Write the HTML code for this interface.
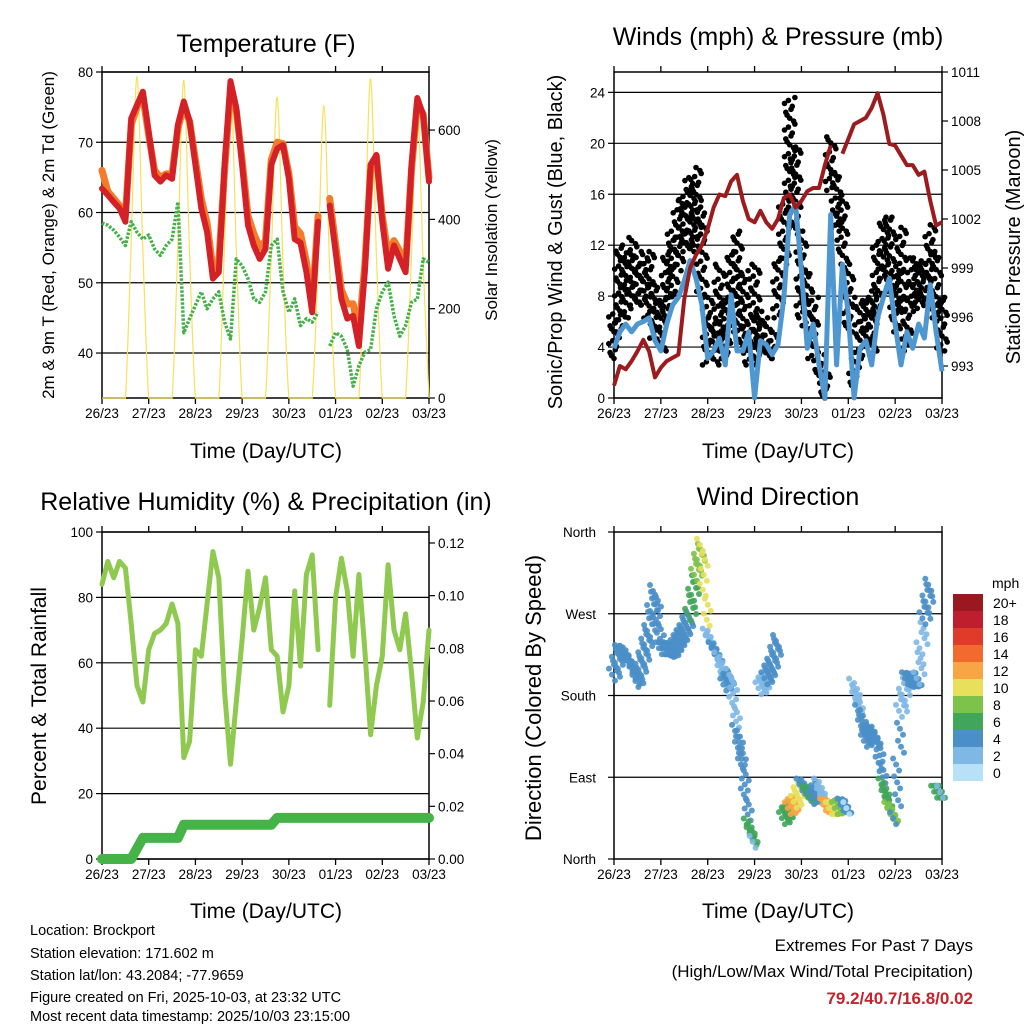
<!DOCTYPE html>
<html><head><meta charset="utf-8"><style>
html,body{margin:0;padding:0;background:#fff;}
svg{display:block;font-family:"Liberation Sans",sans-serif;}
</style></head><body>
<svg id="c" width="1024" height="1024" viewBox="0 0 1024 1024" xmlns="http://www.w3.org/2000/svg">
<rect width="1024" height="1024" fill="#fff"/>
<g id="g"></g>
<text x="266" y="52" font-size="25" text-anchor="middle">Temperature (F)</text>
<text x="778" y="45" font-size="25" text-anchor="middle">Winds (mph) &amp; Pressure (mb)</text>
<text x="266" y="510" font-size="25" text-anchor="middle">Relative Humidity (%) &amp; Precipitation (in)</text>
<text x="778" y="505" font-size="25" text-anchor="middle">Wind Direction</text>
<text x="266" y="458" font-size="21" text-anchor="middle">Time (Day/UTC)</text>
<text x="778" y="458" font-size="21" text-anchor="middle">Time (Day/UTC)</text>
<text x="266" y="918" font-size="21" text-anchor="middle">Time (Day/UTC)</text>
<text x="778" y="918" font-size="21" text-anchor="middle">Time (Day/UTC)</text>
<text transform="translate(54,235) rotate(-90)" font-size="17" text-anchor="middle">2m &amp; 9m T (Red, Orange) &amp; 2m Td (Green)</text>
<text transform="translate(497,230) rotate(-90)" font-size="17" text-anchor="middle">Solar Insolation (Yellow)</text>
<text transform="translate(562,242) rotate(-90)" font-size="20" text-anchor="middle">Sonic/Prop Wind &amp; Gust (Blue, Black)</text>
<text transform="translate(1020,247) rotate(-90)" font-size="20" text-anchor="middle">Station Pressure (Maroon)</text>
<text transform="translate(46,696) rotate(-90)" font-size="21" text-anchor="middle">Percent &amp; Total Rainfall</text>
<text transform="translate(541,698) rotate(-90)" font-size="22" text-anchor="middle">Direction (Colored By Speed)</text>
<g font-size="14.5">
<text x="30" y="935">Location: Brockport</text>
<text x="30" y="958">Station elevation: 171.602 m</text>
<text x="30" y="980">Station lat/lon: 43.2084; -77.9659</text>
<text x="30" y="1002">Figure created on Fri, 2025-10-03, at 23:32 UTC</text>
<text x="30" y="1024" dy="-3">Most recent data timestamp: 2025/10/03 23:15:00</text>
</g>
<g font-size="17" text-anchor="end">
<text x="973" y="951">Extremes For Past 7 Days</text>
<text x="973" y="977">(High/Low/Max Wind/Total Precipitation)</text>
<text x="973" y="1004" fill="#C4232B" font-weight="bold">79.2/40.7/16.8/0.02</text>
</g>
</svg>
<script>
const days=["26/23","27/23","28/23","29/23","30/23","01/23","02/23","03/23"];
const tempRed=[63.4,62.5,61.5,60.6,58.7,73.4,75.3,77.2,71.5,65.3,64.4,65.3,64.8,72.5,75.8,73,66.8,60.6,57.2,50.6,51.5,66.8,78.7,74.9,66.8,58.2,55.3,53.4,54.8,66.8,69.1,69.6,64.8,56.2,55.7,51.5,45.8,58.7,null,61,54.4,47.7,44.9,45.3,41,51.5,66.8,68.2,58.7,52,55.3,53.4,51.5,66.8,76.3,73.9,64.4];
const tempOrange=[66,63,62,61,59.5,72.5,75,76.5,71,66,65,65.5,65.5,72,75,73,67.5,62,58.5,52,53,66,77.5,74.5,67.5,59.5,57,55,56,67.5,70,69.8,65.5,58,57,53,47,59.5,null,62,55.5,49,47,47,43,52.5,66,68,59.5,54,56,54.5,52.5,66,75.5,74,65];
const dewGreen=[58.5,58.2,57.5,56.5,55.3,58.7,57.2,56.2,56.8,54.8,53.9,55.3,56.2,61.5,42.9,44.9,46.8,48.7,46.3,47.7,48.7,44.4,42,53.4,52.4,50.6,47.7,47.2,48.7,55.3,56.2,48.7,45.8,47.7,43.9,44.9,44.4,45.8,null,41,42.9,42.4,40.5,35.3,38.2,40.1,40.5,46.3,48.7,50.1,45.3,42.4,43.9,47.2,47.7,53.4,52.9];
const solar=[0,0,0,0,0,350,720,330,0,0,0,0,0,340,711,320,0,0,0,0,0,350,715,330,0,0,0,0,0,320,674,300,0,0,0,0,0,300,655,290,0,0,0,0,0,350,715,320,0,0,0,0,0,320,661,300,0];
const pressure=[991.8,993,992.8,993.3,993.9,994.6,993.9,992.3,992.9,993.3,993.5,993.7,997.1,999,999.8,1000.4,1001.4,1002.7,1003.5,1003.4,1004.3,1004.7,1003.1,1002,1001.8,1002.5,1001.8,1001.4,1002,1003.3,1003.5,1002.7,1003.1,1003.7,1003.9,1003.9,1005.3,1006.5,null,1006,1006.9,1007.8,1008,1008.2,1008.8,1009.7,1008.4,1006.6,1006.5,1005.9,1005.3,1005.3,1004.7,1004.9,1003.1,1001.6,1001.8];
const windMean=[3.9,5.2,5.8,5.2,5.8,6,6.3,4.5,3.7,5.8,7.3,7.9,9.2,10.8,9.4,7.3,3.1,3.7,4.7,2.6,8.1,3.7,3.7,5.2,0,4.5,4.2,3.4,4.2,7.9,14.4,15.2,10,3.9,5.8,2.6,0,14.4,2.6,10.5,6.6,0,3.9,4.5,2.6,6.3,7.9,9.4,5.8,2.6,5.2,3.9,5.8,4.7,8.9,5.2,2.1];
const gustHi=[6.6,12,11.5,12.6,11.5,11,11.5,8.9,7.9,11.5,13.1,15.5,16.3,17.3,18.1,15,7.9,6.3,10.5,7.9,11.5,13.1,10,6.3,10.5,6.8,6.3,5.2,11,15.7,23.6,19.7,13.1,10,7.9,3.4,2.1,20.5,17.6,15.7,10.5,3.1,7.9,7.9,8.4,12,14.2,14.2,10,13.4,7.9,11,11,10.5,13.6,11.5,7.9];
const gustLo=[3.1,5.2,6.3,7.3,7.3,7.3,5.8,4.7,3.7,6.3,7.9,10,11.5,11.5,12,7.9,2.6,2.6,3.7,3.1,5.2,5.2,3.9,2.6,2.6,3.1,3.1,3.1,6.3,10.5,15,13.1,6.3,5.2,3.1,1.3,0,16.3,13.1,10.5,5.2,1,3.1,3.9,3.7,6.3,9.4,7.9,5.2,6.8,3.7,7.3,6.8,7.3,9.4,6.3,3.7];
const rh=[84,91,86,91,89,72,53,48,64,69,70,72,78,72,31,36,64,62,78,94,86,51,29,48,67,88,70,77,86,64,62,45,53,82,59,87,93,64,null,47,80,92,82,62,87,64,38,53,62,90,70,64,75,57,37,48,70];
const precip=[0,0,0,0,0,0,0.004,0.008,0.008,0.008,0.008,0.008,0.008,0.008,0.013,0.013,0.013,0.013,0.013,0.013,0.013,0.013,0.013,0.013,0.013,0.013,0.013,0.013,0.013,0.013,0.0156,0.0156,0.0156,0.0156,0.0156,0.0156,0.0156,0.0156,0.0156,0.0156,0.0156,0.0156,0.0156,0.0156,0.0156,0.0156,0.0156,0.0156,0.0156,0.0156,0.0156,0.0156,0.0156,0.0156,0.0156,0.0156,0.0156];
const windDir=[203,229,225,214,196,221,251,295,232,232,229,240,251,269,313,346,247,232,221,192,203,141,104,38,19,188,199,214,240,45,56,63,82,74,67,82,60,56,56,60,56,192,163,130,141,130,82,56,45,163,199,196,199,265,302,74,74];
const windSpd=[5,5,5,5,5,5,5,4,4,5,4,5,5,6,9,10,3,4,3,4,3,4,4,7,2,2,4,4,4,7,13,11,5,6,4,2,12,10,8,4,1,2,4,4,4,5,7,8,5,2,5,5,3,5,4,6,3];
const speedLabels=["20+","18","16","14","12","10","8","6","4","2","0"];
const speedColors=["#9B1820","#BE1E2D","#E03A2A","#F26A2E","#F8A545","#E8E05A","#7DC24B","#41A55B","#4A8FC8","#7FB8E5","#B8E1F8"];

const NS="http://www.w3.org/2000/svg";
const G=document.getElementById('g');
function mk(tag,attrs,parent){const e=document.createElementNS(NS,tag);for(const k in attrs)e.setAttribute(k,attrs[k]);(parent||G).appendChild(e);return e;}
const N=56;
function xs(L,R){return i=>L+i/N*(R-L);}
function ys(T,B,lo,hi){return v=>B-(v-lo)/(hi-lo)*(B-T);}
function pathOf(arr,X,Y){let d="",pen=false;arr.forEach((v,i)=>{if(v===null){pen=false;return;}d+=(pen?"L":"M")+X(i).toFixed(1)+" "+Y(v).toFixed(1);pen=true;});return d;}
function smoothOf(arr,X,Y){let p=arr.map((v,i)=>[X(i),Y(v)]);let d="M"+p[0][0]+" "+p[0][1];for(let i=0;i<p.length-1;i++){const p0=p[Math.max(0,i-1)],p1=p[i],p2=p[i+1],p3=p[Math.min(p.length-1,i+2)];const c1=[p1[0]+(p2[0]-p0[0])/6,p1[1]+(p2[1]-p0[1])/6],c2=[p2[0]-(p3[0]-p1[0])/6,p2[1]-(p3[1]-p1[1])/6];d+=`C${c1[0].toFixed(1)} ${Math.min(c1[1],Y(0)).toFixed(1)} ${c2[0].toFixed(1)} ${Math.min(c2[1],Y(0)).toFixed(1)} ${p2[0].toFixed(1)} ${p2[1].toFixed(1)}`;}return d;}
function frame(L,R,T,B,name){
  const g=mk('g',{});
  
  
  for(let k=0;k<=7;k++){const x=L+k*(R-L)/7;
    mk('line',{x1:x,y1:B,x2:x,y2:B+6,stroke:'#000','stroke-width':1.3},g);
    mk('line',{x1:x,y1:T,x2:x,y2:T-6,stroke:'#000','stroke-width':1.3},g);
    const t=mk('text',{x:x,y:B+20,'font-size':13.5,'text-anchor':'middle'},g);t.textContent=days[k];
    
    
  }
  return g;
}
function box(L,R,T,B,g){mk('rect',{x:L,y:T,width:R-L,height:B-T,fill:'none',stroke:'#000','stroke-width':1.5},g);}
function yticks(vals,Y,x,side,fmt,g,L,R,grid){vals.forEach(v=>{const y=Y(v);
  if(grid&&y>Y(vals[vals.length-1])-1)mk('line',{x1:L,y1:y,x2:R,y2:y,stroke:'#000','stroke-width':1.2},g);
  mk('line',{x1:x,y1:y,x2:x+(side<0?-6:6),y2:y,stroke:'#000','stroke-width':1.2},g);
  const t=mk('text',{x:x+(side<0?-9:9),y:y+5,'font-size':13.5,'text-anchor':side<0?'end':'start'},g);t.textContent=fmt(v);
  
  });}

// Panel 1 temperature
{const L=102,R=429,T=72,B=398;const X=xs(L,R),YS=ys(T,B,0,730);
const Yt=v=>B-(v-33.6)/(80-33.6)*(B-T);
const g=frame(L,R,T,B,'temperature');
yticks([40,50,60,70,80],Yt,L,-1,v=>v,g,L,R,true);
yticks([0,200,400,600],YS,R,1,v=>v,g,L,R,false);
const s=mk('path',{d:smoothOf(solar,X,YS),fill:'none',stroke:'#F7E15A','stroke-width':1.2});


const o=mk('path',{d:pathOf(tempOrange,X,Yt),fill:'none',stroke:'#F47B2A','stroke-width':7,'stroke-linejoin':'round','stroke-linecap':'round'});


const r=mk('path',{d:pathOf(tempRed,X,Yt),fill:'none',stroke:'#D42127','stroke-width':6,'stroke-linejoin':'round','stroke-linecap':'round'});


const gr=mk('path',{d:pathOf(dewGreen,X,Yt),fill:'none',stroke:'#46B048','stroke-width':3.5,'stroke-dasharray':'2.5 1.5','stroke-linejoin':'round'});


box(L,R,T,B,g);}

// Panel 2 winds
{const L=614,R=942,T=72,B=398;const X=xs(L,R);const Y=v=>B-v/25.6*(B-T);const YP=v=>366-(v-993)/18*(366-72);
const g=frame(L,R,T,B,'winds');
yticks([0,4,8,12,16,20,24],Y,L,-1,v=>v,g,L,R,true);
yticks([993,996,999,1002,1005,1008,1011],YP,R,1,v=>v,g,L,R,false);
const dg=mk('g',{fill:'#000'});


const jit=[0,-3,2,-1,3,-2,1,-4,4];
gustHi.forEach((h,i)=>{const lo=gustLo[i];const x0=X(i);const n=Math.max(2,Math.round((Y(lo)-Y(h))/3));
 for(let k=0;k<=n;k++){const v=lo+(h-lo)*k/n;const dx=jit[(k*5+i)%9]*1.3;
 const c=mk('circle',{cx:(x0+dx).toFixed(1),cy:Y(v).toFixed(1),r:2.8},dg);
 
 }});
const b=mk('path',{d:pathOf(windMean,X,Y),fill:'none',stroke:'#4F97D1','stroke-width':5,'stroke-linejoin':'round'});


const p=mk('path',{d:pathOf(pressure,X,YP),fill:'none',stroke:'#9B1B1E','stroke-width':4,'stroke-linejoin':'round'});


box(L,R,T,B,g);}

// Panel 3 RH
{const L=102,R=429,T=532,B=859;const X=xs(L,R);const Y=v=>B-v/100*(B-T);const YR=v=>B-v/0.12*(B-543);
const g=frame(L,R,T,B,'humidity');
yticks([0,20,40,60,80,100],Y,L,-1,v=>v,g,L,R,true);
yticks([0,0.02,0.04,0.06,0.08,0.1,0.12],YR,R,1,v=>v.toFixed(2),g,L,R,false);
const pr=mk('path',{d:pathOf(precip,X,YR),fill:'none',stroke:'#45B347','stroke-width':10,'stroke-linecap':'round','stroke-linejoin':'round'});


const h=mk('path',{d:pathOf(rh,X,Y),fill:'none',stroke:'#8FC94F','stroke-width':5,'stroke-linejoin':'round','stroke-linecap':'round'});


box(L,R,T,B,g);}

// Panel 4 direction
{const L=614,R=942,T=532,B=859;const X=xs(L,R);const Y=v=>B-v/360*(B-T);
const g=frame(L,R,T,B,'direction');
const names=["North","East","South","West","North"];
[0,90,180,270,360].forEach((v,k)=>{const y=Y(v);if(k>0&&k<4)mk('line',{x1:L,y1:y,x2:R,y2:y,stroke:'#000','stroke-width':1.2},g);
 mk('line',{x1:L,y1:y,x2:L-6,y2:y,stroke:'#000','stroke-width':1.2},g);
 const t=mk('text',{x:L-18,y:y+5,'font-size':13.5,'text-anchor':'end'},g);t.textContent=names[k];
 
 });
const col=s=>speedColors[10-Math.min(10,Math.floor(s/2))];
const dg=mk('g',{});


windDir.forEach((d,i)=>{const c=col(windSpd[i]);
 const pts=[[X(i),d]];
 if(i<N&&Math.abs(windDir[i+1]-d)<130){for(let k=1;k<6;k++){pts.push([X(i)+(X(i+1)-X(i))*k/6,d+(windDir[i+1]-d)*k/6]);}}
 pts.forEach((p,k)=>{for(let j=-1;j<=1;j++){const cc=mk('circle',{cx:(p[0]+j*3+((k*5)%3-1)*2).toFixed(1),cy:(Y(p[1])+j*6).toFixed(1),r:3,fill:c,'fill-opacity':0.9},dg);
 
 }});});
box(L,R,T,B,g);
const cb=mk('g',{});


const t0=mk('text',{x:992,y:588,'font-size':14},cb);t0.textContent="mph";
speedLabels.forEach((l,k)=>{const y=594+k*17;mk('rect',{x:953,y:y,width:30,height:17,fill:speedColors[k]},cb);
 const t=mk('text',{x:993,y:y+14,'font-size':14},cb);t.textContent=l;
 
 });}
</script>
</body></html>
